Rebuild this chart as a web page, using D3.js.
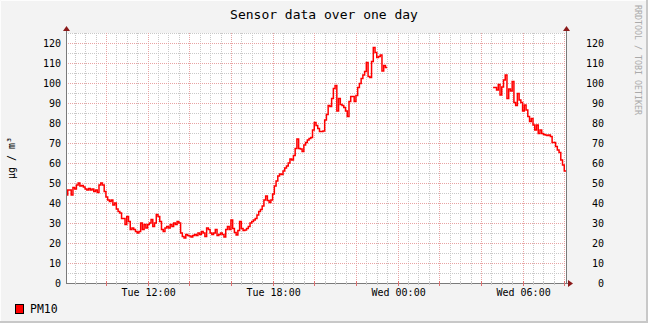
<!DOCTYPE html>
<html>
<head>
<meta charset="utf-8">
<script src="https://cdn.jsdelivr.net/npm/d3@7"></script>
<style>
body { margin: 0; background: #f3f3f3; }
text { font-family: "DejaVu Sans Mono", monospace; fill: #000; }
</style>
</head>
<body>
<script>
// chart text
var title = "Sensor data over one day";
var yLabel = "µg / m³";
var seriesName = "PM10";
var watermark = "RRDTOOL / TOBI OETIKER";

// time window (one day) and sample step
var windowStart = "2023-03-07 08:05";
var windowEnd = "2023-03-08 08:05";
var stepMinutes = 5;

// PM10 samples, tuesday morning to just before midnight
var eveningStart = "2023-03-07 08:05";
var pm10Evening = [
  44, 46.5, 46.5, 44, 47.8, 47, 49, 50, 48.5, 48.8,
  48, 47, 46.5, 47.3, 46.5, 47, 45.7, 46.5, 45.3, 49,
  50, 49, 45.7, 43, 41.5, 40.7, 41.5, 39, 40, 37,
  35.7, 35, 32.3, 32.3, 29.2, 33.3, 30.8, 26.7, 27.5, 26.7,
  25.8, 25, 25.8, 30, 26.7, 29.2, 27.5, 29.2, 30, 31.7,
  28.3, 30, 34.2, 33.3, 30.8, 26.7, 25.8, 27.5, 28.3, 27.5,
  29.2, 28.3, 30, 29.2, 30.8, 30, 25, 23.3, 22.5, 24.2,
  23.7, 23.5, 23, 23.7, 24.2, 23.7, 25, 24.2, 25.8, 25,
  23.3, 27.5, 26.7, 25, 24.2, 25, 26.7, 23.7, 24.2, 25,
  24.2, 23, 26.7, 28.3, 26.7, 31.5, 27.3, 25.2, 24, 26.2,
  30.7, 27.3, 26.2, 26.5, 27.3, 28.2, 30, 30.7, 31.5, 32.3,
  34, 35.7, 36.8, 38.5, 41.5, 43.5, 41.2, 40.2, 41.5, 44.5,
  48.5, 51, 53.5, 54.5, 54.3, 56, 57.5, 58.5, 60, 62,
  61.5, 63.7, 67.3, 72, 67.3, 67, 65.7, 69, 70.3, 71.5,
  72.3, 72.7, 76.5, 80.3, 78.7, 77.3, 75.7, 75.7, 76, 81.5,
  84.3, 88.7, 88.2, 92.3, 97.3, 98.7, 86, 92.3, 89.3, 88.7,
  87.7, 86, 83.2, 90.7, 93.2, 93.2, 90.7, 93.7, 97.7, 99.8,
  102.3, 104, 105.7, 110.3, 103.2, 102.7, 110.7, 117.7, 115.3, 112.7,
  113.2, 114, 106, 108.7, 107.7
];

// PM10 samples, wednesday early morning
var morningStart = "2023-03-08 04:35";
var pm10Morning = [
  97.7, 97.7, 96.5, 99.3, 94, 98, 101.5, 104, 92.3, 97,
  96, 100.7, 90.3, 88.7, 94.8, 91.5, 90.3, 86, 89, 86.5,
  83.2, 80.7, 82.3, 79, 76.5, 79, 74.8, 76.5, 74.8, 74.3,
  74, 73.7, 74, 73.2, 70.3, 70.3, 68.2, 66.5, 65.3, 61.5,
  59, 56
];

var yTickValues = [0, 10, 20, 30, 40, 50, 60, 70, 80, 90, 100, 110, 120];
var yMax = 125;

// layout
var width = 648, height = 323;
var plot = {left: 66, right: 566, top: 33, bottom: 283};

var parse = d3.timeParse("%Y-%m-%d %H:%M");
var t0 = parse(windowStart), t1 = parse(windowEnd);

var x = d3.scaleTime().domain([t0, t1]).range([plot.left, plot.right]);
var y = d3.scaleLinear().domain([0, yMax]).range([plot.bottom, plot.top]);

var svg = d3.select("body").append("svg")
  .attr("width", width)
  .attr("height", height);

// background + border shading
svg.append("rect").attr("width", width).attr("height", height).attr("fill", "#f3f3f3");
svg.append("path").attr("d", "M0.5," + (height - 1) + "V0.5H" + (width - 1))
  .attr("fill", "none").attr("stroke", "#fdfdfd");
svg.append("path").attr("d", "M" + (width - 1) + ",0V" + (height - 1) + "H0")
  .attr("fill", "none").attr("stroke", "#c8c8c8").attr("stroke-width", 2);

svg.append("rect")
  .attr("x", plot.left).attr("y", plot.top)
  .attr("width", plot.right - plot.left).attr("height", plot.bottom - plot.top)
  .attr("fill", "#fff");

function px(v) { return Math.round(v) + 0.5; }

var grid = svg.append("g").attr("shape-rendering", "crispEdges");

// x grid: minor every 30 min, major every 2 h
var minorX = d3.timeMinute.every(30).range(t0, t1).filter(function(d) {
  return !(d.getMinutes() === 0 && d.getHours() % 2 === 0);
});
var majorX = d3.timeHour.every(2).range(t0, t1);

grid.selectAll(".xminor").data(minorX).enter().append("line")
  .attr("x1", function(d) { return px(x(d)); })
  .attr("x2", function(d) { return px(x(d)); })
  .attr("y1", plot.top).attr("y2", plot.bottom)
  .attr("stroke", "#c9c9c9").attr("stroke-dasharray", "1,1");

// y grid: minor every 5, major every 10
var minorY = d3.range(5, yMax + 1, 10);
grid.selectAll(".yminor").data(minorY).enter().append("line")
  .attr("x1", plot.left).attr("x2", plot.right)
  .attr("y1", function(d) { return px(y(d)); })
  .attr("y2", function(d) { return px(y(d)); })
  .attr("stroke", "#c9c9c9").attr("stroke-dasharray", "1,1");

grid.selectAll(".xmajor").data(majorX).enter().append("line")
  .attr("x1", function(d) { return px(x(d)); })
  .attr("x2", function(d) { return px(x(d)); })
  .attr("y1", plot.top).attr("y2", plot.bottom)
  .attr("stroke", "#e8a3a3").attr("stroke-dasharray", "1,1");

grid.selectAll(".ymajor").data(yTickValues.slice(1)).enter().append("line")
  .attr("x1", plot.left).attr("x2", plot.right)
  .attr("y1", function(d) { return px(y(d)); })
  .attr("y2", function(d) { return px(y(d)); })
  .attr("stroke", "#e8a3a3").attr("stroke-dasharray", "1,1");

// data line
var step = stepMinutes * 60 * 1000;
function toPoints(startStr, values) {
  var s = parse(startStr);
  var pts = values.map(function(v, i) { return {t: new Date(+s + i * step), v: v}; });
  var last = values[values.length - 1];
  pts.push({t: new Date(+s + values.length * step), v: last});
  return pts;
}

var line = d3.line()
  .x(function(d) { return x(d.t); })
  .y(function(d) { return y(d.v); })
  .curve(d3.curveStepAfter);

[toPoints(eveningStart, pm10Evening), toPoints(morningStart, pm10Morning)].forEach(function(pts) {
  svg.append("path")
    .datum(pts)
    .attr("d", line)
    .attr("fill", "none")
    .attr("stroke", "#ff0000")
    .attr("stroke-width", 1.5);
});

// axes
var axisCol = "#7a7a7a", arrowCol = "#8b1a1a";
var ax = svg.append("g").attr("shape-rendering", "crispEdges");
ax.append("line").attr("x1", plot.left).attr("x2", plot.right + 4)
  .attr("y1", px(plot.bottom)).attr("y2", px(plot.bottom)).attr("stroke", axisCol);
ax.append("line").attr("x1", px(plot.left)).attr("x2", px(plot.left))
  .attr("y1", plot.top - 3).attr("y2", plot.bottom + 1).attr("stroke", axisCol);
ax.append("line").attr("x1", px(plot.right)).attr("x2", px(plot.right))
  .attr("y1", plot.top - 3).attr("y2", plot.bottom + 1).attr("stroke", axisCol);

// ticks on the time axis
ax.selectAll(".tmin").data(minorX).enter().append("line")
  .attr("x1", function(d) { return px(x(d)); })
  .attr("x2", function(d) { return px(x(d)); })
  .attr("y1", plot.bottom - 1).attr("y2", plot.bottom + 2)
  .attr("stroke", "#c9c9c9");
ax.selectAll(".tmaj").data(majorX).enter().append("line")
  .attr("x1", function(d) { return px(x(d)); })
  .attr("x2", function(d) { return px(x(d)); })
  .attr("y1", plot.bottom - 2).attr("y2", plot.bottom + 3)
  .attr("stroke", "#e07070");

// arrow heads
var arrows = [
  "M" + (plot.left - 3) + "," + (plot.top - 2) + "L" + (plot.left + 0.5) + "," + (plot.top - 7) + "L" + (plot.left + 4) + "," + (plot.top - 2) + "Z",
  "M" + (plot.right - 3) + "," + (plot.top - 2) + "L" + (plot.right + 0.5) + "," + (plot.top - 7) + "L" + (plot.right + 4) + "," + (plot.top - 2) + "Z",
  "M" + (plot.right + 2) + "," + (plot.bottom - 3) + "L" + (plot.right + 7) + "," + (plot.bottom + 0.5) + "L" + (plot.right + 2) + "," + (plot.bottom + 4) + "Z"
];
svg.selectAll(".arrow").data(arrows).enter().append("path")
  .attr("d", function(d) { return d; })
  .attr("fill", arrowCol);

// time labels every 6 h
var fmt = d3.timeFormat("%a %H:%M");
svg.selectAll(".xlab").data(d3.timeHour.every(6).range(t0, t1)).enter().append("text")
  .attr("x", function(d) { return x(d) + 1; })
  .attr("y", 296)
  .attr("text-anchor", "middle")
  .attr("font-size", 10)
  .text(function(d) { return fmt(d); });

// value labels both sides
svg.selectAll(".ylabL").data(yTickValues).enter().append("text")
  .attr("x", 61)
  .attr("y", function(d) { return y(d); })
  .attr("dy", "0.36em")
  .attr("text-anchor", "end")
  .attr("font-size", 10)
  .text(function(d) { return d; });
svg.selectAll(".ylabR").data(yTickValues).enter().append("text")
  .attr("x", 604)
  .attr("y", function(d) { return y(d); })
  .attr("dy", "0.36em")
  .attr("text-anchor", "end")
  .attr("font-size", 10)
  .text(function(d) { return d; });

// title, unit label, watermark
svg.append("text")
  .attr("x", width / 2).attr("y", 19)
  .attr("text-anchor", "middle")
  .attr("font-size", 13)
  .text(title);

svg.append("text")
  .attr("transform", "translate(15," + ((plot.top + plot.bottom) / 2) + ") rotate(-90)")
  .attr("text-anchor", "middle")
  .attr("font-size", 10)
  .text(yLabel);

svg.append("text")
  .attr("transform", "translate(635,5) rotate(90)")
  .attr("font-size", 8.3)
  .attr("font-family", "DejaVu Sans")
  .style("fill", "#aaaaaa")
  .text(watermark);

// legend
svg.append("rect")
  .attr("x", 15.5).attr("y", 304.5).attr("width", 8).attr("height", 9)
  .attr("fill", "#ff0000").attr("stroke", "#000");
svg.append("text")
  .attr("x", 30).attr("y", 313)
  .attr("font-size", 11.5)
  .text(seriesName);
</script>
</body>
</html>
